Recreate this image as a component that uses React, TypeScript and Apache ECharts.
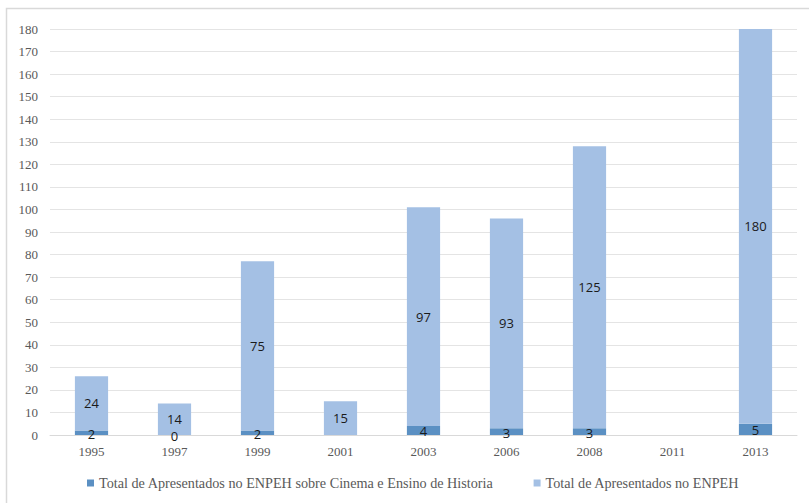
import React, { useEffect, useRef } from "react";
import * as echarts from "echarts";

// Anos das edições do ENPEH
const years = ["1995", "1997", "1999", "2001", "2003", "2006", "2008", "2011", "2013"];
// Trabalhos sobre Cinema e Ensino de História (null = sem rótulo)
const cinemaValues: (number | null)[] = [2, 0, 2, null, 4, 3, 3, null, 5];
// Total de trabalhos apresentados
const totalValues: (number | null)[] = [24, 14, 75, 15, 97, 93, 125, null, 180];

const seriesNames = [
  "Total de Apresentados no ENPEH sobre Cinema e Ensino de Historia",
  "Total de Apresentados no ENPEH",
];

const axisFont = "Liberation Serif";
const labelFont = "Open Sans";

export default function App() {
  const ref = useRef<HTMLDivElement>(null);

  useEffect(() => {
    if (!ref.current) return;
    const chart = echarts.init(ref.current, null, { renderer: "svg" });
    chart.setOption({
      animation: false,
      backgroundColor: "#ffffff",
      graphic: [
        {
          type: "rect",
          shape: { x: 6.5, y: 8.5, width: 830, height: 520 },
          style: { fill: "none", stroke: "#d9d9d9", lineWidth: 1.5 },
          silent: true,
        },
      ],
      grid: { left: 50, right: 12, top: 29, bottom: 68, containLabel: false },
      legend: {
        bottom: 8,
        left: 82,
        itemWidth: 7,
        itemHeight: 7,
        itemGap: 40,
        icon: "rect",
        textStyle: { fontFamily: axisFont, fontSize: 14.2, color: "#595959" },
        data: seriesNames,
      },
      xAxis: {
        type: "category",
        data: years,
        axisTick: { show: false },
        axisLine: { lineStyle: { color: "#d9d9d9", width: 1 } },
        axisLabel: { fontFamily: axisFont, fontSize: 13, color: "#595959", margin: 10 },
      },
      yAxis: {
        type: "value",
        min: 0,
        max: 180,
        interval: 10,
        axisLine: { show: false },
        axisTick: { show: false },
        splitLine: { lineStyle: { color: "#e4e4e4", width: 1 } },
        axisLabel: { fontFamily: axisFont, fontSize: 13, color: "#595959", margin: 12 },
      },
      series: [
        {
          name: seriesNames[0],
          type: "bar",
          stack: "total",
          barWidth: "40%",
          clip: true,
          data: cinemaValues,
          itemStyle: { color: "#5b90c3" },
          label: {
            show: true,
            position: "inside",
            fontFamily: labelFont,
            fontSize: 13,
            color: "#1a1a1a",
            offset: [0, 1],
          },
        },
        {
          name: seriesNames[1],
          type: "bar",
          stack: "total",
          barWidth: "40%",
          clip: true,
          data: totalValues,
          itemStyle: { color: "#a4c0e4" },
          label: {
            show: true,
            position: "inside",
            fontFamily: labelFont,
            fontSize: 13,
            color: "#1a1a1a",
          },
        },
      ],
    });
    return () => chart.dispose();
  }, []);

  return (
    <div
      ref={ref}
      style={{ position: "absolute", left: 0, top: 0, width: 809, height: 503 }}
    />
  );
}
